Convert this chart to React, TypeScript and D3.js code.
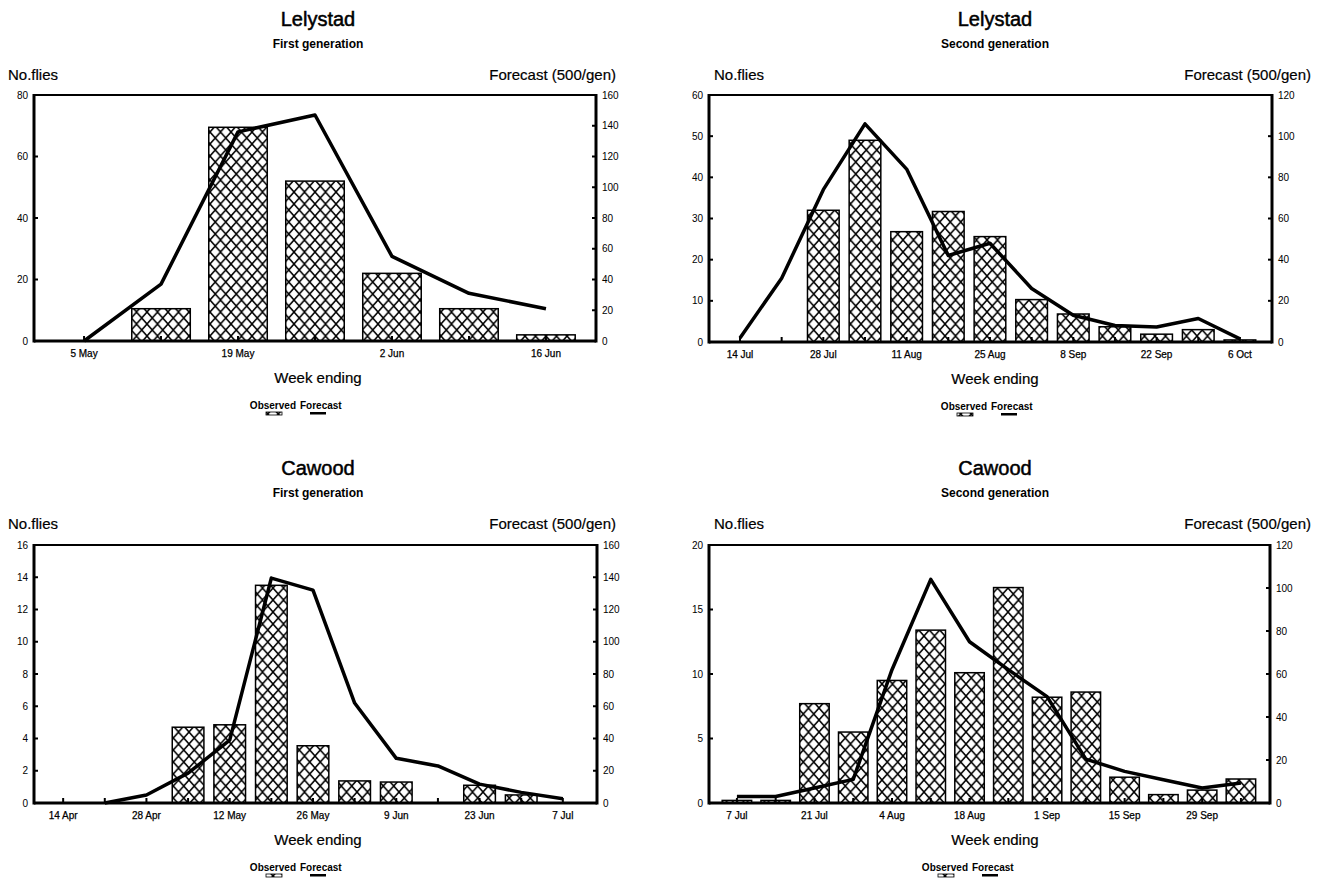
import React from "react";
import * as d3 from "d3";

const FONT = "'Liberation Sans', Arial, Helvetica, sans-serif";

// ---------- Lelystad, first generation ----------
const lel1Weeks = ["5 May", "12 May", "19 May", "26 May", "2 Jun", "9 Jun", "16 Jun"];
const lel1Observed = [0, 10.5, 69.5, 52, 22, 10.5, 2];
const lel1Forecast: (number | null)[] = [0, 37, 136, 147, 55, 31, 21];
const lel1LeftTicks = [0, 20, 40, 60, 80];
const lel1RightTicks = [0, 20, 40, 60, 80, 100, 120, 140, 160];

// ---------- Lelystad, second generation ----------
const lel2Weeks = ["14 Jul", "21 Jul", "28 Jul", "4 Aug", "11 Aug", "18 Aug", "25 Aug", "1 Sep", "8 Sep", "15 Sep", "22 Sep", "29 Sep", "6 Oct"];
const lel2Observed = [0, 0, 32, 49, 26.8, 31.7, 25.6, 10.3, 6.8, 3.7, 1.9, 3.0, 0.5];
const lel2Forecast: (number | null)[] = [2, 31, 74, 106, 84, 42, 48, 26, 13, 8, 7.3, 11.4, 1.5];
const lel2LeftTicks = [0, 10, 20, 30, 40, 50, 60];
const lel2RightTicks = [0, 20, 40, 60, 80, 100, 120];

// ---------- Cawood, first generation ----------
const caw1Weeks = ["14 Apr", "21 Apr", "28 Apr", "5 May", "12 May", "19 May", "26 May", "2 Jun", "9 Jun", "16 Jun", "23 Jun", "30 Jun", "7 Jul"];
const caw1Observed = [0, 0, 0, 4.7, 4.85, 13.5, 3.55, 1.37, 1.3, 0, 1.1, 0.5, 0];
const caw1Forecast: (number | null)[] = [null, 0, 5, 18.5, 39, 139.5, 132, 62, 27.7, 23, 11.7, 6.6, 2.7];
const caw1LeftTicks = [0, 2, 4, 6, 8, 10, 12, 14, 16];
const caw1RightTicks = [0, 20, 40, 60, 80, 100, 120, 140, 160];

// ---------- Cawood, second generation ----------
const caw2Weeks = ["7 Jul", "14 Jul", "21 Jul", "28 Jul", "4 Aug", "11 Aug", "18 Aug", "25 Aug", "1 Sep", "8 Sep", "15 Sep", "22 Sep", "29 Sep", "6 Oct"];
const caw2Observed = [0.2, 0.2, 7.7, 5.5, 9.5, 13.4, 10.1, 16.7, 8.2, 8.6, 2.0, 0.65, 1.0, 1.86];
const caw2Forecast: (number | null)[] = [3, 3, 7, 11, 62, 104, 75, 62, 49.5, 20.4, 14.7, 10.8, 7, 9.3];
const caw2LeftTicks = [0, 5, 10, 15, 20];
const caw2RightTicks = [0, 20, 40, 60, 80, 100, 120];

type PanelProps = {
  id: string;
  title: string;
  subtitle: string;
  weeks: string[];
  observed: number[];
  forecast: (number | null)[];
  leftTicks: number[];
  rightTicks: number[];
  xDomain: [number, number];
  x0: number;
  x1: number;
  y0: number;
  y1: number;
  cx: number;
  titleY: number;
  subY: number;
  axisTitleY: number;
  noFliesX: number;
  forecastRightX: number;
  legendCx: number;
};

function Panel(p: PanelProps) {
  const x = d3.scaleLinear().domain(p.xDomain).range([p.x0, p.x1]);
  const leftMax = p.leftTicks[p.leftTicks.length - 1];
  const rightMax = p.rightTicks[p.rightTicks.length - 1];
  const yL = d3.scaleLinear().domain([0, leftMax]).range([p.y1, p.y0]);
  const yR = d3.scaleLinear().domain([0, rightMax]).range([p.y1, p.y0]);
  const step = x(1) - x(0);
  const bw = step * 0.76;
  const line = d3
    .line<number | null>()
    .defined((d) => d != null)
    .x((_, i) => x(i))
    .y((d) => yR(d as number));
  const patId = `hatch-${p.id}`;
  const xLabelY = p.y1 + 16;
  const weekEndingY = p.y1 + 42;
  const legendY = p.y1 + 68;
  return (
    <g>
      <defs>
        <pattern id={patId} patternUnits="userSpaceOnUse" width={10.5} height={12}>
          <rect width={10.5} height={12} fill="#fff" />
          <path d="M0,0 L10.5,12 M10.5,0 L0,12" stroke="#000" strokeWidth={1.5} />
        </pattern>
      </defs>
      {/* titles */}
      <text x={p.cx} y={p.titleY} textAnchor="middle" fontFamily={FONT} fontSize={20} fill="#000" stroke="#000" strokeWidth={0.5}>
        {p.title}
      </text>
      <text x={p.cx} y={p.subY} textAnchor="middle" fontFamily={FONT} fontSize={12} fontWeight="bold" fill="#000">
        {p.subtitle}
      </text>
      <text x={p.noFliesX} y={p.axisTitleY} fontFamily={FONT} fontSize={15} fill="#000" stroke="#000" strokeWidth={0.2}>
        No.flies
      </text>
      <text x={p.forecastRightX} y={p.axisTitleY} textAnchor="end" fontFamily={FONT} fontSize={15} fill="#000" stroke="#000" strokeWidth={0.2}>
        Forecast (500/gen)
      </text>

      {/* bars */}
      {p.observed.map((v, i) =>
        v > 0 ? (
          <rect
            key={`b${i}`}
            x={x(i) - bw / 2}
            y={yL(v)}
            width={bw}
            height={p.y1 - yL(v)}
            fill={`url(#${patId})`}
            stroke="#000"
            strokeWidth={1.5}
          />
        ) : null
      )}

      {/* forecast line */}
      <path d={line(p.forecast) || ""} fill="none" stroke="#000" strokeWidth={3.5} strokeLinejoin="round" />

      {/* frame */}
      <line x1={p.x0} x2={p.x1} y1={p.y0} y2={p.y0} stroke="#000" strokeWidth={2} />
      <line x1={p.x0} x2={p.x1} y1={p.y1} y2={p.y1} stroke="#000" strokeWidth={3} />
      <line x1={p.x0} x2={p.x0} y1={p.y0 - 1} y2={p.y1 + 1.5} stroke="#000" strokeWidth={3} />
      <line x1={p.x1} x2={p.x1} y1={p.y0 - 1} y2={p.y1 + 1.5} stroke="#000" strokeWidth={3} />

      {/* left axis */}
      {p.leftTicks.map((t) => (
        <g key={`l${t}`}>
          <line x1={p.x0} x2={p.x0 + 4} y1={yL(t)} y2={yL(t)} stroke="#000" strokeWidth={2} />
          <text x={p.x0 - 6} y={yL(t) + 3.5} textAnchor="end" fontFamily={FONT} fontSize={10} fill="#000">
            {t}
          </text>
        </g>
      ))}
      {/* right axis */}
      {p.rightTicks.map((t) => (
        <g key={`r${t}`}>
          <line x1={p.x1 - 4} x2={p.x1} y1={yR(t)} y2={yR(t)} stroke="#000" strokeWidth={2} />
          <text x={p.x1 + 6} y={yR(t) + 3.5} textAnchor="start" fontFamily={FONT} fontSize={10} fill="#000">
            {t}
          </text>
        </g>
      ))}
      {/* x axis: weekly minor ticks, labels every two weeks */}
      {p.weeks.map((w, i) => (
        <g key={`x${i}`}>
          <line x1={x(i)} x2={x(i)} y1={p.y1} y2={p.y1 - 5} stroke="#000" strokeWidth={2} />
          {i % 2 === 0 ? (
            <text x={x(i)} y={xLabelY} textAnchor="middle" fontFamily={FONT} fontSize={10} fill="#000" stroke="#000" strokeWidth={0.25}>
              {w}
            </text>
          ) : null}
        </g>
      ))}
      <text x={p.cx} y={weekEndingY} textAnchor="middle" fontFamily={FONT} fontSize={15} fill="#000" stroke="#000" strokeWidth={0.2}>
        Week ending
      </text>

      {/* legend */}
      <text x={p.legendCx - 2} y={legendY} textAnchor="end" fontFamily={FONT} fontSize={10} fontWeight="bold" fill="#000">
        Observed
      </text>
      <text x={p.legendCx + 2} y={legendY} textAnchor="start" fontFamily={FONT} fontSize={10} fontWeight="bold" fill="#000">
        Forecast
      </text>
      <rect x={p.legendCx - 32} y={legendY + 3} width={16} height={3} fill={`url(#${patId})`} stroke="#000" strokeWidth={0.8} />
      <rect x={p.legendCx + 12} y={legendY + 3} width={16} height={2.5} fill="#000" />
    </g>
  );
}

export default function App() {
  return (
    <svg
      width={1323}
      height={881}
      style={{ position: "absolute", left: 0, top: 0, background: "#fff" }}
    >
      <rect width={1323} height={881} fill="#fff" />
      <Panel
        id="tl"
        title="Lelystad"
        subtitle="First generation"
        weeks={lel1Weeks}
        observed={lel1Observed}
        forecast={lel1Forecast}
        leftTicks={lel1LeftTicks}
        rightTicks={lel1RightTicks}
        xDomain={[-0.65, 6.65]}
        x0={34}
        x1={596}
        y0={95}
        y1={341}
        cx={318}
        titleY={26}
        subY={48}
        axisTitleY={80}
        noFliesX={8}
        forecastRightX={616}
        legendCx={298}
      />
      <Panel
        id="tr"
        title="Lelystad"
        subtitle="Second generation"
        weeks={lel2Weeks}
        observed={lel2Observed}
        forecast={lel2Forecast}
        leftTicks={lel2LeftTicks}
        rightTicks={lel2RightTicks}
        xDomain={[-0.744, 12.77]}
        x0={709}
        x1={1272}
        y0={95}
        y1={342}
        cx={995}
        titleY={26}
        subY={48}
        axisTitleY={80}
        noFliesX={714}
        forecastRightX={1311}
        legendCx={989}
      />
      <Panel
        id="bl"
        title="Cawood"
        subtitle="First generation"
        weeks={caw1Weeks}
        observed={caw1Observed}
        forecast={caw1Forecast}
        leftTicks={caw1LeftTicks}
        rightTicks={caw1RightTicks}
        xDomain={[-0.7, 12.82]}
        x0={34}
        x1={597}
        y0={545}
        y1={803}
        cx={318}
        titleY={475}
        subY={497}
        axisTitleY={529}
        noFliesX={8}
        forecastRightX={616}
        legendCx={298}
      />
      <Panel
        id="br"
        title="Cawood"
        subtitle="Second generation"
        weeks={caw2Weeks}
        observed={caw2Observed}
        forecast={caw2Forecast}
        leftTicks={caw2LeftTicks}
        rightTicks={caw2RightTicks}
        xDomain={[-0.72, 13.75]}
        x0={709}
        x1={1270}
        y0={545}
        y1={803}
        cx={995}
        titleY={475}
        subY={497}
        axisTitleY={529}
        noFliesX={714}
        forecastRightX={1311}
        legendCx={970}
      />
    </svg>
  );
}
